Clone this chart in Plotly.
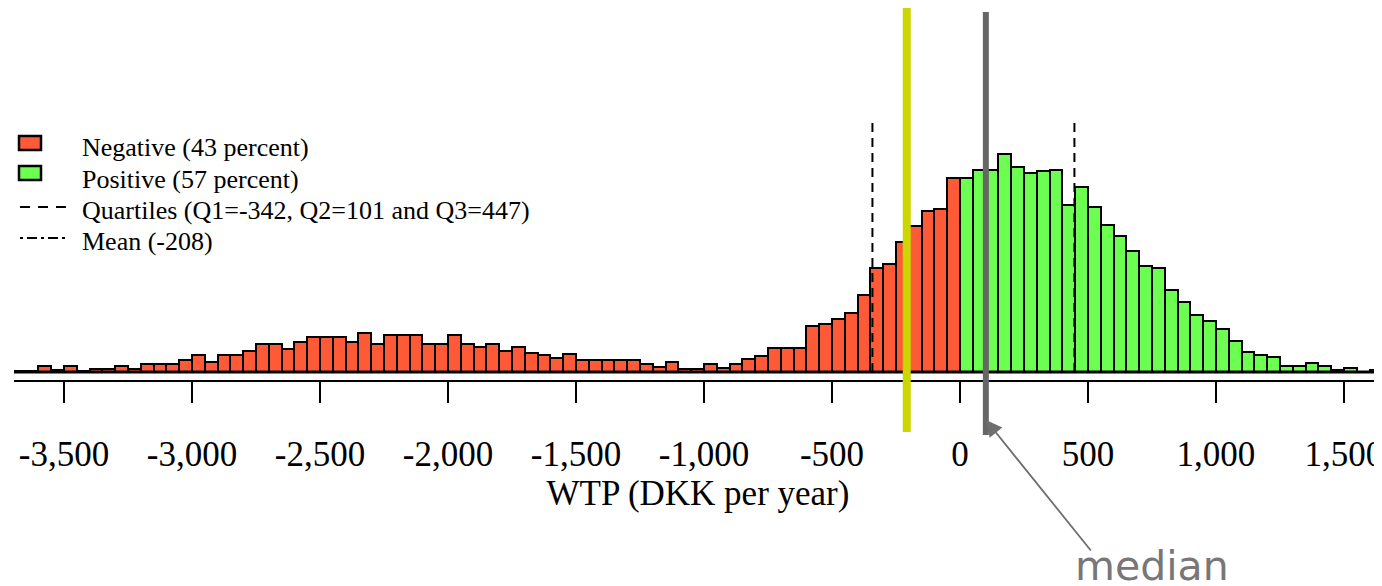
import numpy as np
import plotly.graph_objects as go

# ---- data ----
bin_width = 50
first_bin_left = -3700  # left edge of first bin
# negative WTP bins: [-3700,-3650) ... [-50,0)
neg_counts = [1, 1, 6, 2, 6, 1, 3, 3, 6, 3, 8, 8, 8, 12, 17, 10, 17, 17, 21, 28, 28, 23, 30, 35, 35, 35,
              30, 39, 28, 37, 37, 37, 28, 28, 37, 28, 25, 28, 21, 25, 19, 17, 14, 18, 12, 12, 12, 12, 12,
              8, 5, 10, 3, 3,
              8, 4, 8, 13, 16, 24, 24, 24, 46, 48, 53, 59, 77, 104, 108, 130, 146, 161, 163,
              194]
# positive WTP bins: [0,50) ... [1600,1650)
pos_counts = [194, 202, 202, 218, 205, 199, 201, 202, 167, 185, 165, 147, 136, 121, 106, 104, 82, 70, 57,
              51, 43, 31, 20, 17, 15, 6, 6, 9, 6, 2, 4, 0, 2]

q1, q2, q3 = -342, 101, 447
mean_wtp = -208
ref_line_top = 249

tick_vals = [-3500, -3000, -2500, -2000, -1500, -1000, -500, 0, 500, 1000, 1500]
tick_labels = ["-3,500", "-3,000", "-2,500", "-2,000", "-1,500", "-1,000", "-500", "0", "500", "1,000", "1,500"]

neg_label = "Negative (43 percent)"
pos_label = "Positive (57 percent)"
quart_label = "Quartiles (Q1=-342, Q2=101 and Q3=447)"
mean_label = "Mean (-208)"
x_title = "WTP (DKK per year)"

# ---- derived bin centres ----
neg_centers = first_bin_left + bin_width * (np.arange(len(neg_counts)) + 0.5)
pos_centers = 0 + bin_width * (np.arange(len(pos_counts)) + 0.5)

RED = "#ff5a38"
GREEN = "#6cff52"
SERIF = "Liberation Serif"

fig = go.Figure()
fig.add_trace(go.Bar(x=neg_centers, y=neg_counts, width=bin_width, name=neg_label, showlegend=False,
                     marker=dict(color=RED, line=dict(color="black", width=2))))
fig.add_trace(go.Bar(x=pos_centers, y=pos_counts, width=bin_width, name=pos_label, showlegend=False,
                     marker=dict(color=GREEN, line=dict(color="black", width=2))))
fig.add_trace(go.Scatter(x=[q1, q1, None, q2, q2, None, q3, q3],
                         y=[0, ref_line_top, None, 0, ref_line_top, None, 0, ref_line_top],
                         mode="lines", name=quart_label, showlegend=False,
                         line=dict(color="black", width=2, dash="9px,6px")))
fig.add_trace(go.Scatter(x=[mean_wtp, mean_wtp], y=[0, ref_line_top], mode="lines", name=mean_label,
                         showlegend=False, line=dict(color="black", width=2, dash="9px,4px,2px,4px")))

# page is offset by the 8px body margin; plot area spans screen x 14..1382, y 8..380
PLOT_W = 1368.0
PLOT_H = 372.0
def py(ys):
    return (380.0 - ys) / PLOT_H
def px(xs):
    return (xs - 14.0) / PLOT_W

shapes = [
    dict(type="line", xref="x", yref="y", x0=-3700, x1=1700, y0=0, y1=0,
         line=dict(color="black", width=3), layer="above"),
    dict(type="line", xref="x", yref="paper", x0=mean_wtp, x1=mean_wtp, y0=py(432), y1=py(8),
         line=dict(color="#ccd600", width=8), layer="above"),
    dict(type="line", xref="x", yref="paper", x0=q2, x1=q2, y0=py(435), y1=py(12),
         line=dict(color="#666666", width=6), layer="above"),
]

# hand-drawn legend (symbols + labels)
leg_text_y = [147, 179, 211, 241]
leg_sym_y = [143, 173, 207, 238]
shapes += [
    dict(type="rect", xref="paper", yref="paper", x0=px(19), x1=px(41),
         y0=py(leg_sym_y[0] + 7), y1=py(leg_sym_y[0] - 7),
         fillcolor=RED, line=dict(color="black", width=2.5)),
    dict(type="rect", xref="paper", yref="paper", x0=px(19), x1=px(41),
         y0=py(leg_sym_y[1] + 7), y1=py(leg_sym_y[1] - 7),
         fillcolor=GREEN, line=dict(color="black", width=2.5)),
    dict(type="line", xref="paper", yref="paper", x0=px(20), x1=px(66),
         y0=py(leg_sym_y[2]), y1=py(leg_sym_y[2]),
         line=dict(color="black", width=2, dash="10px,8px")),
    dict(type="line", xref="paper", yref="paper", x0=px(20), x1=px(66),
         y0=py(leg_sym_y[3]), y1=py(leg_sym_y[3]),
         line=dict(color="black", width=2, dash="3px,4px,10px,4px")),
]

annotations = [
    dict(xref="x", yref="paper", x=q2, y=py(420), text=" ", showarrow=True,
         axref="pixel", ayref="pixel", ax=107, ay=133,
         arrowhead=2, arrowsize=1.8, arrowwidth=1.8, arrowcolor="#6e6e6e", standoff=0,
         font=dict(size=2)),
    dict(xref="x", yref="paper", x=750, y=py(566), text="median", showarrow=False,
         xanchor="center", yanchor="middle",
         font=dict(family="DejaVu Sans", size=41, color="#777777")),
]
for lbl, yy in zip([neg_label, pos_label, quart_label, mean_label], leg_text_y):
    annotations.append(dict(xref="paper", yref="paper", x=px(80), y=py(yy), text=lbl,
                            showarrow=False, xanchor="left", yanchor="middle",
                            font=dict(family=SERIF, size=26, color="black")))

fig.update_layout(
    width=1374, height=578,
    margin=dict(l=6, r=0, t=0, b=206, pad=0),
    paper_bgcolor="white", plot_bgcolor="white",
    bargap=0, barmode="overlay",
    shapes=shapes, annotations=annotations,
    showlegend=False,
    xaxis=dict(range=[-3695.3, 1648.5], showline=True, linecolor="black", linewidth=2,
               ticks="outside", ticklen=21, tickwidth=2, tickcolor="black",
               tickvals=tick_vals, ticktext=tick_labels, ticklabelstandoff=21,
               ticklabeloverflow="allow",
               tickfont=dict(family=SERIF, size=35, color="black"),
               showgrid=False, zeroline=False,
               title=dict(text=x_title, font=dict(family=SERIF, size=35, color="black"), standoff=0)),
    yaxis=dict(visible=False, range=[-8, 364], showgrid=False, zeroline=False),
)

fig.write_html("out.html")
